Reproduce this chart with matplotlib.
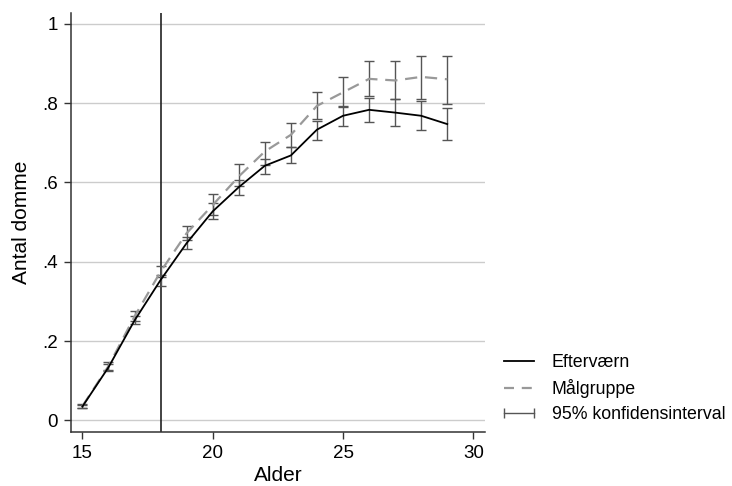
import numpy as np
import matplotlib
matplotlib.use('Agg')
import matplotlib.pyplot as plt
from matplotlib.lines import Line2D

plt.rcParams['font.family'] = ['Liberation Sans', 'DejaVu Sans']

# data
alder = [15, 16, 17, 18, 19, 20, 21, 22, 23, 24, 25, 26, 27, 28, 29]
efter = [0.035, 0.134, 0.252, 0.354, 0.447, 0.527, 0.588, 0.642, 0.668, 0.733, 0.768, 0.783, 0.776, 0.768, 0.747]
efter_lo = [0.030, 0.125, 0.242, 0.340, 0.432, 0.507, 0.568, 0.622, 0.648, 0.707, 0.741, 0.752, 0.743, 0.731, 0.707]
efter_hi = [0.040, 0.143, 0.262, 0.366, 0.462, 0.547, 0.607, 0.660, 0.689, 0.754, 0.793, 0.813, 0.810, 0.804, 0.787]
maal = [0.036, 0.137, 0.262, 0.375, 0.472, 0.543, 0.615, 0.678, 0.720, 0.793, 0.827, 0.861, 0.857, 0.866, 0.860]
maal_lo = [0.031, 0.128, 0.250, 0.362, 0.455, 0.518, 0.590, 0.645, 0.690, 0.760, 0.790, 0.817, 0.810, 0.810, 0.798]
maal_hi = [0.041, 0.146, 0.275, 0.388, 0.490, 0.570, 0.647, 0.702, 0.751, 0.827, 0.866, 0.907, 0.905, 0.919, 0.919]
yticks = [0, 0.2, 0.4, 0.6, 0.8, 1.0]
ytick_labels = ['0', '.2', '.4', '.6', '.8', '1']
xticks = [15, 20, 25, 30]
cutoff = 18

fig = plt.figure(figsize=(7.32, 4.86), dpi=100)
ax = fig.add_axes([0.0966, 0.1105, 0.566, 0.8635])

ci_col = '#555555'
dash = (0, (5.5, 3.5))
for y, lo, hi in [(maal, maal_lo, maal_hi), (efter, efter_lo, efter_hi)]:
    y = np.array(y)
    err = [y - np.array(lo), np.array(hi) - y]
    ax.errorbar(alder, y, yerr=err, fmt='none', ecolor=ci_col, elinewidth=1.0,
                capsize=3.8, capthick=1.0, zorder=3)

ax.plot(alder, maal, color='#999999', lw=1.6, ls=dash, zorder=4)
ax.plot(alder, efter, color='black', lw=1.3, zorder=5)
ax.axvline(cutoff, color='#222222', lw=1.2, zorder=2)

ax.set_xlim(14.55, 30.45)
ax.set_ylim(-0.03, 1.028)
ax.set_yticks(yticks)
ax.set_yticklabels(ytick_labels)
ax.set_xticks(xticks)
ax.tick_params(labelsize=13.5, length=5, width=1, color='#333333', pad=4)
ax.yaxis.grid(True, color='#cccccc', lw=1)
ax.set_axisbelow(True)
for s in ['top', 'right']:
    ax.spines[s].set_visible(False)
for s in ['left', 'bottom']:
    ax.spines[s].set_color('#333333')
    ax.spines[s].set_linewidth(1.1)

ax.set_xlabel('Alder', fontsize=15, labelpad=3)
ax.set_ylabel('Antal domme', fontsize=15, labelpad=8)

handles = [
    Line2D([], [], color='black', lw=1.3),
    Line2D([], [], color='#999999', lw=1.6, ls=(0, (4.5, 3.5))),
    Line2D([], [], color=ci_col, lw=1.0, marker='|', markersize=7, markeredgewidth=1.0),
]
labels = ['Efterværn', 'Målgruppe', '95% konfidensinterval']
fig.legend(handles, labels, loc='upper left', bbox_to_anchor=(0.672, 0.286),
           frameon=False, fontsize=12.8, numpoints=2, handlelength=2.25,
           handletextpad=0.72, labelspacing=0.45, borderaxespad=0)

fig.savefig('out.png', dpi=100)
